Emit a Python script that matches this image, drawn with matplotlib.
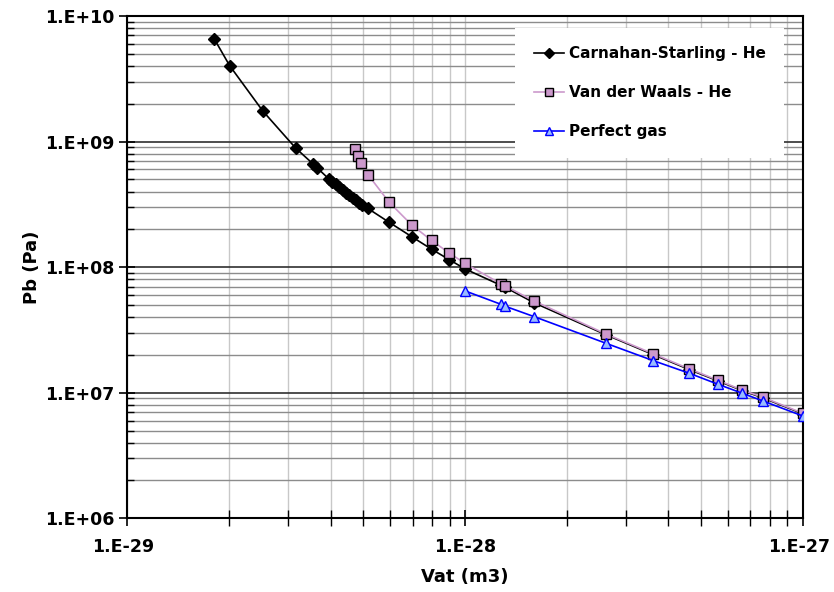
import matplotlib
matplotlib.use("Agg")
import matplotlib.pyplot as plt
from matplotlib.ticker import FixedLocator, FuncFormatter, NullFormatter
from matplotlib.transforms import ScaledTranslation
import numpy as np

plt.rcParams['font.family'] = ['DejaVu Sans']

# Carnahan-Starling - He
cs_v = [1.81e-29, 2.01e-29, 2.52e-29, 3.15e-29, 3.55e-29, 3.65e-29,
        3.95e-29, 4.05e-29, 4.15e-29, 4.25e-29, 4.35e-29, 4.45e-29,
        4.55e-29, 4.65e-29, 4.75e-29, 4.85e-29, 4.95e-29,
        5.15e-29, 5.94e-29, 6.95e-29, 7.96e-29, 8.97e-29, 1.00e-28,
        1.28e-28, 1.31e-28, 1.60e-28, 2.61e-28, 3.61e-28, 4.61e-28,
        5.60e-28, 6.62e-28, 7.62e-28, 1.00e-27]
cs_p = [6.56e9, 4.02e9, 1.75e9, 8.89e8, 6.63e8, 6.17e8,
        5.05e8, 4.80e8, 4.56e8, 4.34e8, 4.12e8, 3.92e8,
        3.73e8, 3.56e8, 3.40e8, 3.25e8, 3.13e8,
        2.94e8, 2.29e8, 1.75e8, 1.39e8, 1.15e8, 9.68e7,
        7.15e7, 6.95e7, 5.21e7, 2.90e7, 2.01e7, 1.53e7,
        1.245e7, 1.04e7, 9.1e6, 6.8e6]

# Van der Waals - He
vdw_v = [4.72e-29, 4.83e-29, 4.91e-29, 5.17e-29, 5.96e-29, 6.95e-29,
         7.96e-29, 8.97e-29, 1.00e-28, 1.28e-28, 1.31e-28, 1.60e-28,
         2.61e-28, 3.61e-28, 4.61e-28, 5.60e-28, 6.62e-28, 7.62e-28,
         1.00e-27]
vdw_p = [8.68e8, 7.68e8, 6.79e8, 5.42e8, 3.29e8, 2.17e8,
         1.63e8, 1.30e8, 1.07e8, 7.35e7, 7.13e7, 5.38e7,
         2.94e7, 2.04e7, 1.55e7, 1.26e7, 1.05e7, 9.2e6,
         6.87e6]

# Perfect gas
pg_v = [1.00e-28, 1.28e-28, 1.31e-28, 1.60e-28, 2.61e-28, 3.61e-28,
        4.61e-28, 5.60e-28, 6.62e-28, 7.62e-28, 1.00e-27]
pg_p = [6.47e7, 5.05e7, 4.90e7, 4.04e7, 2.48e7, 1.80e7,
        1.43e7, 1.17e7, 9.9e6, 8.6e6, 6.53e6]

labels = ["Carnahan-Starling - He", "Van der Waals - He", "Perfect gas"]
x_major = [1e-29, 1e-28, 1e-27]
y_major = [1e6, 1e7, 1e8, 1e9, 1e10]

fig = plt.figure(figsize=(8.34, 5.92), dpi=100)
ax = fig.add_axes([0.1526, 0.1245, 0.9625 - 0.1526, 0.973 - 0.1245])
ax.set_xscale('log')
ax.set_yscale('log')
ax.set_xlim(x_major[0], x_major[-1])
ax.set_ylim(y_major[0], y_major[-1])

x_minor = [m * d for d in x_major[:-1] for m in range(2, 10)]
y_minor = [m * d for d in y_major[:-1] for m in range(2, 10)]
ax.xaxis.set_major_locator(FixedLocator(x_major))
ax.xaxis.set_minor_locator(FixedLocator(x_minor))
ax.yaxis.set_major_locator(FixedLocator(y_major))
ax.yaxis.set_minor_locator(FixedLocator(y_minor))

ax.grid(True, which='minor', axis='y', color='#8c8c8c', linewidth=1.0)
ax.grid(True, which='major', axis='y', color='#303030', linewidth=1.2)
ax.grid(True, which='both', axis='x', color='#c8c8c8', linewidth=1.0)
ax.set_axisbelow(True)

fmt = FuncFormatter(lambda v, pos: "1.E%+03d" % int(round(np.log10(v))))
ax.xaxis.set_major_formatter(fmt)
ax.yaxis.set_major_formatter(fmt)
ax.xaxis.set_minor_formatter(NullFormatter())
ax.yaxis.set_minor_formatter(NullFormatter())

ax.tick_params(which='major', direction='inout', length=11, width=1.2,
               labelsize=12.5, pad=4)
ax.tick_params(axis='x', which='major', pad=9)
ax.tick_params(axis='x', which='minor', direction='inout', length=11, width=1.0)
ax.tick_params(axis='y', which='minor', direction='in', length=5, width=1.0)
for lab in ax.get_xticklabels() + ax.get_yticklabels():
    lab.set_fontweight('bold')

for s in ax.spines.values():
    s.set_linewidth(1.5)
    s.set_color('black')

ax.plot(cs_v, cs_p, color='black', linewidth=1.2, marker='D', markersize=6.5,
        markerfacecolor='black', markeredgecolor='black', label=labels[0], zorder=3)
ax.plot(vdw_v, vdw_p, color='#cc99cc', linewidth=1.2, marker='s', markersize=7,
        markerfacecolor='#cc99cc', markeredgecolor='black', markeredgewidth=1.0,
        label=labels[1], zorder=4)
ax.plot(pg_v, pg_p, color='#0000ff', linewidth=1.2, marker='^', markersize=7,
        markerfacecolor='#99bbff', markeredgecolor='#0000ff', markeredgewidth=1.0,
        label=labels[2], zorder=5)

leg = ax.legend(loc='upper right', bbox_to_anchor=(0.972, 0.976), borderaxespad=0,
                frameon=True, fancybox=False, edgecolor='white', framealpha=1.0,
                prop={'weight': 'bold', 'size': 11}, handlelength=1.96,
                labelspacing=1.57, borderpad=1.2, handletextpad=0.33,
                markerscale=0.8)
leg.get_frame().set_linewidth(0)

ax.set_xlabel("Vat (m3)", fontsize=13, fontweight='bold', labelpad=8)
ax.set_ylabel("Pb (Pa)", fontsize=13, fontweight='bold', labelpad=3)

fig.canvas.draw()
last = ax.xaxis.get_major_ticks()[-1].label1
last.set_transform(last.get_transform() + ScaledTranslation(-4 / 100, 0, fig.dpi_scale_trans))
first = ax.xaxis.get_major_ticks()[0].label1
first.set_transform(first.get_transform() + ScaledTranslation(-4 / 100, 0, fig.dpi_scale_trans))

fig.savefig("out.png", dpi=100)
